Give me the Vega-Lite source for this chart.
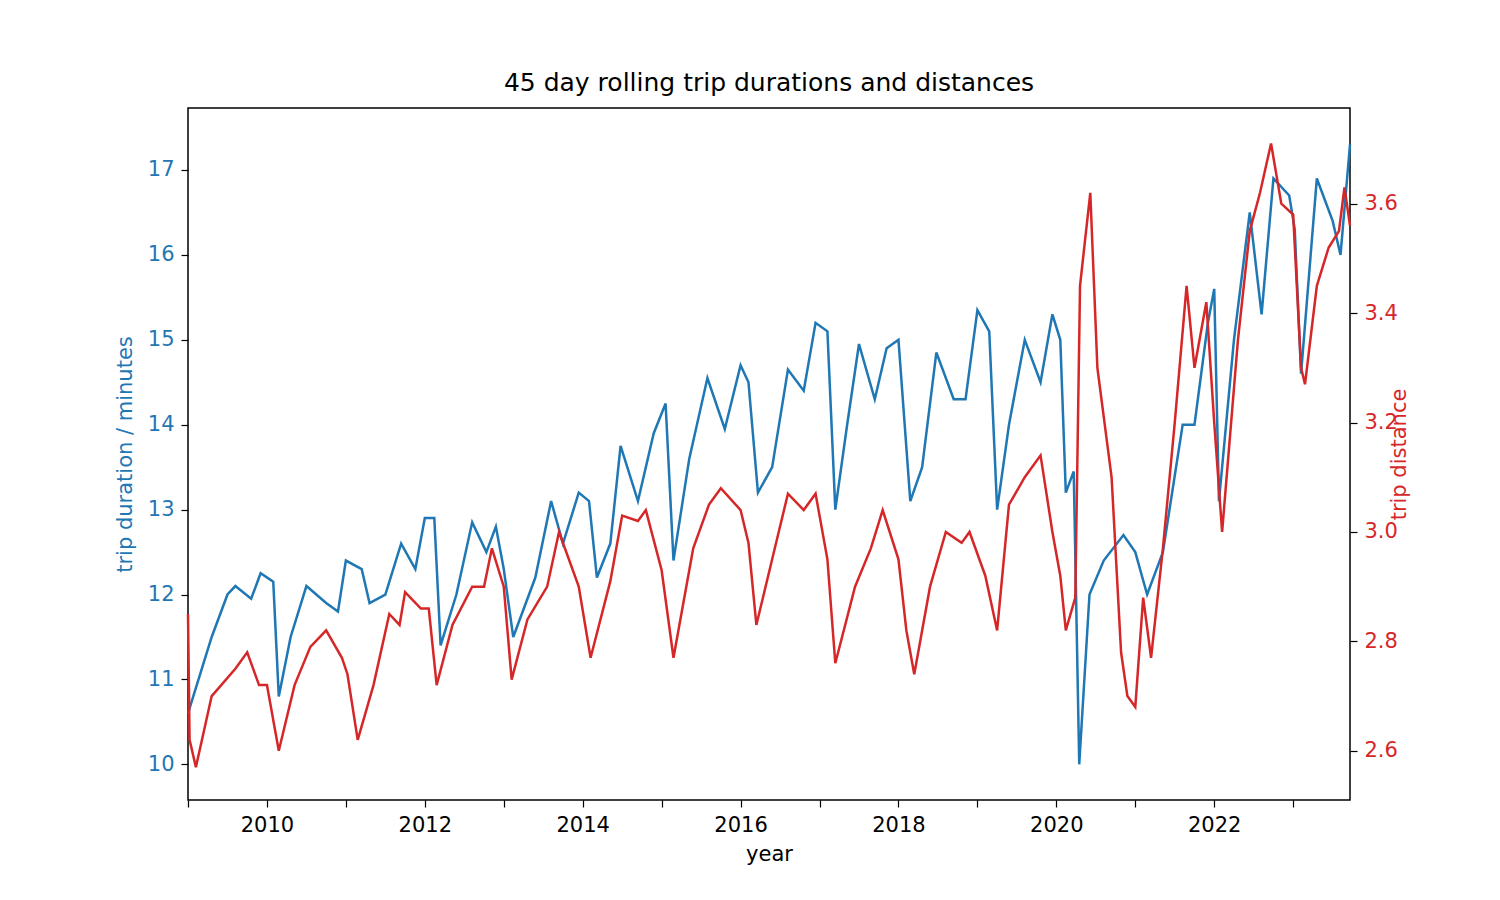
{
  "$schema": "https://vega.github.io/schema/vega-lite/v6.json",
  "width": 1162,
  "height": 692,
  "autosize": "none",
  "padding": {"left": 188, "top": 108, "right": 150, "bottom": 100},
  "title": {"text": "45 day rolling trip durations and distances", "fontSize": 25, "fontWeight": "normal", "font": "DejaVu Sans", "color": "black", "offset": 12},
  "config": {
    "font": "DejaVu Sans",
    "view": {"stroke": "black", "strokeWidth": 1.5},
    "axis": {"grid": false, "labelFont": "DejaVu Sans", "titleFont": "DejaVu Sans", "labelFontSize": 21, "titleFontSize": 21, "titleFontWeight": "normal", "tickColor": "black", "domain": false, "tickSize": 7, "tickWidth": 1.2, "labelPadding": 7}
  },
  "datasets": {
    "dur": [
      {"year": 2009.0, "v": 10.6}, {"year": 2009.1, "v": 10.9}, {"year": 2009.3, "v": 11.5}, {"year": 2009.5, "v": 12.0}, {"year": 2009.6, "v": 12.1}, {"year": 2009.8, "v": 11.95}, {"year": 2009.92, "v": 12.25}, {"year": 2010.08, "v": 12.15}, {"year": 2010.15, "v": 10.8}, {"year": 2010.3, "v": 11.5}, {"year": 2010.5, "v": 12.1}, {"year": 2010.75, "v": 11.9}, {"year": 2010.9, "v": 11.8}, {"year": 2011.0, "v": 12.4}, {"year": 2011.2, "v": 12.3}, {"year": 2011.3, "v": 11.9}, {"year": 2011.5, "v": 12.0}, {"year": 2011.7, "v": 12.6}, {"year": 2011.88, "v": 12.3}, {"year": 2012.0, "v": 12.9}, {"year": 2012.12, "v": 12.9}, {"year": 2012.2, "v": 11.4}, {"year": 2012.4, "v": 12.0}, {"year": 2012.6, "v": 12.85}, {"year": 2012.78, "v": 12.5}, {"year": 2012.9, "v": 12.8}, {"year": 2013.0, "v": 12.3}, {"year": 2013.12, "v": 11.5}, {"year": 2013.4, "v": 12.2}, {"year": 2013.6, "v": 13.1}, {"year": 2013.75, "v": 12.6}, {"year": 2013.95, "v": 13.2}, {"year": 2014.08, "v": 13.1}, {"year": 2014.18, "v": 12.2}, {"year": 2014.35, "v": 12.6}, {"year": 2014.48, "v": 13.75}, {"year": 2014.7, "v": 13.1}, {"year": 2014.9, "v": 13.9}, {"year": 2015.05, "v": 14.25}, {"year": 2015.15, "v": 12.4}, {"year": 2015.35, "v": 13.6}, {"year": 2015.58, "v": 14.55}, {"year": 2015.8, "v": 13.95}, {"year": 2016.0, "v": 14.7}, {"year": 2016.1, "v": 14.5}, {"year": 2016.22, "v": 13.2}, {"year": 2016.4, "v": 13.5}, {"year": 2016.6, "v": 14.65}, {"year": 2016.8, "v": 14.4}, {"year": 2016.95, "v": 15.2}, {"year": 2017.1, "v": 15.1}, {"year": 2017.2, "v": 13.0}, {"year": 2017.35, "v": 14.0}, {"year": 2017.5, "v": 14.95}, {"year": 2017.7, "v": 14.3}, {"year": 2017.85, "v": 14.9}, {"year": 2018.0, "v": 15.0}, {"year": 2018.15, "v": 13.1}, {"year": 2018.3, "v": 13.5}, {"year": 2018.48, "v": 14.85}, {"year": 2018.7, "v": 14.3}, {"year": 2018.85, "v": 14.3}, {"year": 2019.0, "v": 15.35}, {"year": 2019.15, "v": 15.1}, {"year": 2019.25, "v": 13.0}, {"year": 2019.4, "v": 14.0}, {"year": 2019.6, "v": 15.0}, {"year": 2019.8, "v": 14.5}, {"year": 2019.95, "v": 15.3}, {"year": 2020.05, "v": 15.0}, {"year": 2020.12, "v": 13.2}, {"year": 2020.22, "v": 13.45}, {"year": 2020.29, "v": 10.0}, {"year": 2020.42, "v": 12.0}, {"year": 2020.6, "v": 12.4}, {"year": 2020.85, "v": 12.7}, {"year": 2021.0, "v": 12.5}, {"year": 2021.15, "v": 12.0}, {"year": 2021.35, "v": 12.5}, {"year": 2021.6, "v": 14.0}, {"year": 2021.75, "v": 14.0}, {"year": 2021.92, "v": 15.2}, {"year": 2022.0, "v": 15.6}, {"year": 2022.06, "v": 13.1}, {"year": 2022.25, "v": 15.0}, {"year": 2022.45, "v": 16.5}, {"year": 2022.6, "v": 15.3}, {"year": 2022.75, "v": 16.9}, {"year": 2022.95, "v": 16.7}, {"year": 2023.02, "v": 16.3}, {"year": 2023.1, "v": 14.6}, {"year": 2023.3, "v": 16.9}, {"year": 2023.5, "v": 16.4}, {"year": 2023.6, "v": 16.0}, {"year": 2023.72, "v": 17.3}
    ],
    "dist": [
      {"year": 2009.0, "v": 2.85}, {"year": 2009.02, "v": 2.62}, {"year": 2009.1, "v": 2.57}, {"year": 2009.3, "v": 2.7}, {"year": 2009.6, "v": 2.75}, {"year": 2009.75, "v": 2.78}, {"year": 2009.9, "v": 2.72}, {"year": 2010.0, "v": 2.72}, {"year": 2010.15, "v": 2.6}, {"year": 2010.35, "v": 2.72}, {"year": 2010.55, "v": 2.79}, {"year": 2010.75, "v": 2.82}, {"year": 2010.95, "v": 2.77}, {"year": 2011.02, "v": 2.74}, {"year": 2011.15, "v": 2.62}, {"year": 2011.35, "v": 2.72}, {"year": 2011.55, "v": 2.85}, {"year": 2011.68, "v": 2.83}, {"year": 2011.75, "v": 2.89}, {"year": 2011.95, "v": 2.86}, {"year": 2012.05, "v": 2.86}, {"year": 2012.15, "v": 2.72}, {"year": 2012.35, "v": 2.83}, {"year": 2012.6, "v": 2.9}, {"year": 2012.75, "v": 2.9}, {"year": 2012.85, "v": 2.97}, {"year": 2013.0, "v": 2.9}, {"year": 2013.1, "v": 2.73}, {"year": 2013.3, "v": 2.84}, {"year": 2013.55, "v": 2.9}, {"year": 2013.7, "v": 3.0}, {"year": 2013.95, "v": 2.9}, {"year": 2014.1, "v": 2.77}, {"year": 2014.35, "v": 2.91}, {"year": 2014.5, "v": 3.03}, {"year": 2014.7, "v": 3.02}, {"year": 2014.8, "v": 3.04}, {"year": 2015.0, "v": 2.93}, {"year": 2015.15, "v": 2.77}, {"year": 2015.4, "v": 2.97}, {"year": 2015.6, "v": 3.05}, {"year": 2015.75, "v": 3.08}, {"year": 2016.0, "v": 3.04}, {"year": 2016.1, "v": 2.98}, {"year": 2016.2, "v": 2.83}, {"year": 2016.4, "v": 2.95}, {"year": 2016.6, "v": 3.07}, {"year": 2016.8, "v": 3.04}, {"year": 2016.95, "v": 3.07}, {"year": 2017.1, "v": 2.95}, {"year": 2017.2, "v": 2.76}, {"year": 2017.45, "v": 2.9}, {"year": 2017.65, "v": 2.97}, {"year": 2017.8, "v": 3.04}, {"year": 2018.0, "v": 2.95}, {"year": 2018.1, "v": 2.82}, {"year": 2018.2, "v": 2.74}, {"year": 2018.4, "v": 2.9}, {"year": 2018.6, "v": 3.0}, {"year": 2018.8, "v": 2.98}, {"year": 2018.9, "v": 3.0}, {"year": 2019.1, "v": 2.92}, {"year": 2019.25, "v": 2.82}, {"year": 2019.4, "v": 3.05}, {"year": 2019.6, "v": 3.1}, {"year": 2019.8, "v": 3.14}, {"year": 2019.95, "v": 3.0}, {"year": 2020.05, "v": 2.92}, {"year": 2020.12, "v": 2.82}, {"year": 2020.24, "v": 2.88}, {"year": 2020.3, "v": 3.45}, {"year": 2020.43, "v": 3.62}, {"year": 2020.52, "v": 3.3}, {"year": 2020.7, "v": 3.1}, {"year": 2020.82, "v": 2.78}, {"year": 2020.9, "v": 2.7}, {"year": 2021.0, "v": 2.68}, {"year": 2021.1, "v": 2.88}, {"year": 2021.2, "v": 2.77}, {"year": 2021.35, "v": 2.97}, {"year": 2021.5, "v": 3.2}, {"year": 2021.65, "v": 3.45}, {"year": 2021.75, "v": 3.3}, {"year": 2021.9, "v": 3.42}, {"year": 2022.0, "v": 3.2}, {"year": 2022.1, "v": 3.0}, {"year": 2022.3, "v": 3.35}, {"year": 2022.45, "v": 3.55}, {"year": 2022.58, "v": 3.62}, {"year": 2022.72, "v": 3.71}, {"year": 2022.85, "v": 3.6}, {"year": 2023.0, "v": 3.58}, {"year": 2023.1, "v": 3.3}, {"year": 2023.15, "v": 3.27}, {"year": 2023.3, "v": 3.45}, {"year": 2023.45, "v": 3.52}, {"year": 2023.58, "v": 3.55}, {"year": 2023.65, "v": 3.63}, {"year": 2023.72, "v": 3.56}
    ]
  },
  "layer": [
    {
      "data": {"name": "dur"},
      "mark": {"type": "line", "color": "#1f77b4", "strokeWidth": 2.5},
      "encoding": {
        "x": {"field": "year", "type": "quantitative", "scale": {"domain": [2009, 2023.72], "nice": false, "zero": false},
          "axis": {"title": "year", "values": [2009, 2010, 2011, 2012, 2013, 2014, 2015, 2016, 2017, 2018, 2019, 2020, 2021, 2022, 2023], "labelExpr": "datum.value % 2 == 0 ? datum.value : ''", "format": "d", "labelColor": "black", "titleColor": "black", "titlePadding": 8}},
        "y": {"field": "v", "type": "quantitative", "scale": {"domain": [9.58, 17.73], "nice": false, "zero": false},
          "axis": {"title": "trip duration / minutes", "values": [10, 11, 12, 13, 14, 15, 16, 17], "labelColor": "#1f77b4", "titleColor": "#1f77b4", "titlePadding": 12}}
      }
    },
    {
      "data": {"name": "dist"},
      "mark": {"type": "line", "color": "#d62728", "strokeWidth": 2.5},
      "encoding": {
        "x": {"field": "year", "type": "quantitative"},
        "y": {"field": "v", "type": "quantitative", "scale": {"domain": [2.51, 3.775], "nice": false, "zero": false},
          "axis": {"orient": "right", "title": "trip distance", "titleAngle": -90, "titleBaseline": "bottom", "values": [2.6, 2.8, 3.0, 3.2, 3.4, 3.6], "format": ".1f", "labelColor": "#d62728", "titleColor": "#d62728", "titlePadding": 12}}
      }
    }
  ],
  "resolve": {"scale": {"y": "independent"}}
}
